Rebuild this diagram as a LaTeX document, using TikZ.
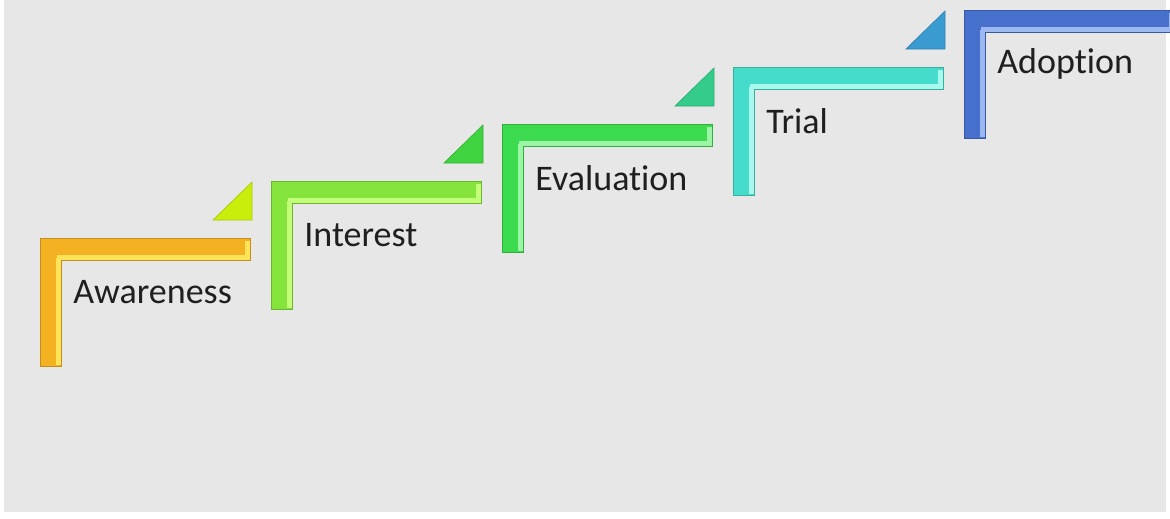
\documentclass[tikz,border=0pt]{standalone}
\usepackage{fontspec}
\setmainfont{Carlito}[Ligatures={NoCommon,NoRare}]
\usetikzlibrary{calc}
\definecolor{bggray}{HTML}{E7E7E7}
\definecolor{awareC}{HTML}{F4B223}
\definecolor{awareH}{HTML}{FFE45A}
\definecolor{interC}{HTML}{84E43C}
\definecolor{interH}{HTML}{C4FF7A}
\definecolor{evalC}{HTML}{3CDA4E}
\definecolor{evalH}{HTML}{9CF5A4}
\definecolor{trialC}{HTML}{45DCCB}
\definecolor{trialH}{HTML}{A8F8EE}
\definecolor{adoptC}{HTML}{4770CC}
\definecolor{adoptH}{HTML}{9DB8F0}
\definecolor{triA}{HTML}{C9EE0C}
\definecolor{triB}{HTML}{3FD33F}
\definecolor{triC}{HTML}{34CC8A}
\definecolor{triD}{HTML}{3A9BD0}
\tikzset{
  stepbar/.style={fill=#1, draw=#1!80!black, line width=0.4pt},
  stephl/.style={draw=#1, line width=0.09cm},
  steptri/.style={fill=#1, draw=#1!85!black, line width=0.4pt},
  steplabel/.style={anchor=west, inner sep=0pt, text=black!88, font=\fontsize{20.5}{24}\selectfont}
}
\begin{document}
\begin{tikzpicture}[x=0.02cm, y=-0.02cm]
	\fill[white] (0,0) rectangle (1170,518);
	\fill[bggray] (4,0) rectangle (1166,512);
	\useasboundingbox (0,0) rectangle (1170,518);

	\foreach \i/\name/\col/\hl/\txt in {0/aware/awareC/awareH/Awareness, 1/inter/interC/interH/Interest, 2/eval/evalC/evalH/Evaluation, 3/trial/trialC/trialH/Trial, 4/adopt/adoptC/adoptH/Adoption}{
		\pgfmathsetmacro{\xo}{40+231*\i}
		\pgfmathsetmacro{\yo}{238-57*\i}
		\coordinate (\name) at (\xo,\yo);
		\draw[stepbar=\col] (\name) -- ++(210,0) -- ++(0,22) -- ++(-189,0) -- ++(0,106) -- ++(-21,0) -- cycle;
		\draw[stephl=\hl] ($(\name)+(18.5,19.5)$) -- ++(0,107) ($(\name)+(16.5,19.5)$) -- ++(191,0) -- ++(0,-17);
		\node[steplabel] (\name-text) at ($(\name)+(33,54)$) {\txt};
	}

	\foreach \i/\name/\col in {0/awaretri/triA, 1/intertri/triB, 2/evaltri/triC, 3/trialtri/triD}{
		\pgfmathsetmacro{\xo}{40+231*\i}
		\pgfmathsetmacro{\yo}{238-57*\i}
		\coordinate (\name) at (\xo+212,\yo-18);
		\draw[steptri=\col] (\name) -- ++(-39,0) -- ++(39,-38) -- cycle;
	}
\end{tikzpicture}
\end{document}
